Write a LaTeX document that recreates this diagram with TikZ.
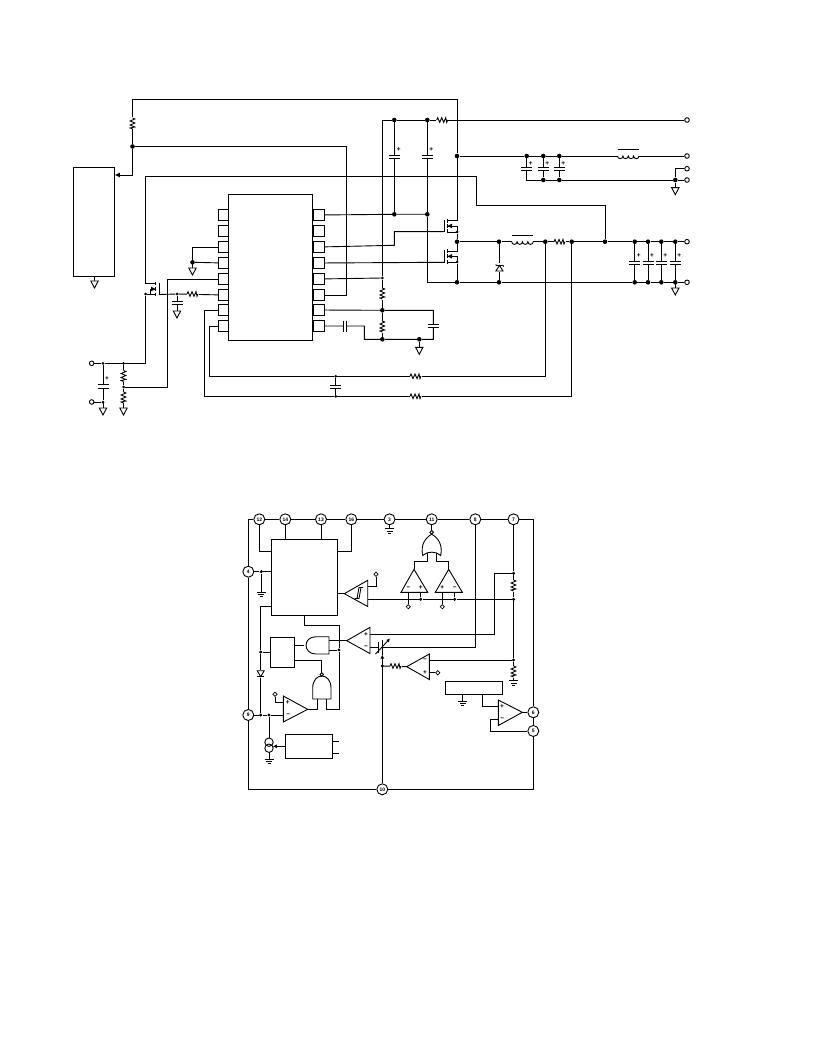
\documentclass[tikz,border=0pt]{standalone}
\usepackage{fontspec}
\setmainfont{Liberation Sans}
\usetikzlibrary{arrows.meta,shapes.geometric}
\tikzset{
 w/.style={line width=0.9pt,line join=miter},
 jdot/.style={circle,fill=black,inner sep=0pt,minimum size=4.6pt},
 sdot/.style={circle,fill=black,inner sep=0pt,minimum size=3pt},
 term/.style={circle,draw,line width=0.9pt,fill=white,inner sep=0pt,minimum size=4.6pt},
 pinc/.style={circle,draw,line width=0.9pt,fill=white,inner sep=0pt,minimum size=11pt,font=\fontsize{5}{5}\selectfont\bfseries},
 pinb/.style={draw,line width=0.9pt,fill=white,inner sep=0pt,minimum width=11pt,minimum height=11pt},
 blockb/.style={draw,line width=0.9pt,fill=white,inner sep=0pt},
 diam/.style={diamond,draw,line width=0.7pt,fill=white,inner sep=0pt,minimum size=4.5pt},
 sgn/.style={inner sep=0pt,font=\fontsize{6.5}{6.5}\selectfont\bfseries},
 resh/.pic={\fill[white](-0.5,-3) rectangle (11.5,3);\draw[w](0,0)--(1,-2.3)--(3,2.3)--(5,-2.3)--(7,2.3)--(9,-2.3)--(10,2.3)--(11,0);},
 resv/.pic={\fill[white](-3,-0.5) rectangle (3,11.5);\draw[w](0,0)--(2.3,1)--(-2.3,3)--(2.3,5)--(-2.3,7)--(2.3,9)--(-2.3,10)--(0,11);},
 capv/.pic={\fill[white](-6,-1.65) rectangle (6,1.65);\draw[w](-5.5,-1.65)--(5.5,-1.65) (-5.5,1.65)--(5.5,1.65);},
 caph/.pic={\fill[white](-1.65,-6) rectangle (1.65,6);\draw[w](-1.65,-5.5)--(-1.65,5.5) (1.65,-5.5)--(1.65,5.5);},
 indc/.pic={\fill[white](0,-6) rectangle (21.5,1);\draw[w](0,0) arc[start angle=180,end angle=0,radius=2.69] arc[start angle=180,end angle=0,radius=2.69] arc[start angle=180,end angle=0,radius=2.69] arc[start angle=180,end angle=0,radius=2.69];\draw[w](0,-6.3)--(21.5,-6.3);},
 gtri/.pic={\draw[w](0,-5)--(0,0);\draw[w,fill=white](-3.7,0)--(3.7,0)--(0,7)--cycle;},
 gbars/.pic={\draw[w](-4.5,0)--(4.5,0) (-3,2.3)--(3,2.3) (-1.5,4.6)--(1.5,4.6);},
 nfet/.pic={\draw[w](0,0)--(0,12.3);\draw[w](3.3,-1)--(3.3,3) (3.3,4.2)--(3.3,8) (3.3,9.5)--(3.3,13.3);\draw[w](3.3,0.7)--(13,0.7);\draw[w](3.3,6)--(13,6)--(13,12)--(3.3,12);\fill(3.5,6)--(8,3.7)--(8,8.3)--cycle;},
}
\begin{document}
\begin{tikzpicture}[x=1pt,y=-1pt]
\useasboundingbox (0,0) rectangle (816,1056);
% ---------- upper schematic: blocks ----------
\node[blockb,minimum width=41pt,minimum height=109pt] (blk) at (93.8,221.8) {};
\node[blockb,minimum width=84pt,minimum height=146pt] (chip) at (270.3,267.3) {};
\foreach \i/\y in {1/215,2/231,3/247,4/263,5/279,6/295,7/310,8/326}{
 \node[pinb,minimum width=10pt] (lp\i) at (223.3,\y) {};
 \node[pinb] (rp\i) at (319,\y) {};
}
% junctions
\foreach \n/\x/\y in {a1/132.5/146.5,b1/394.3/120,b2/427.3/120,b3/394.3/214.3,b4/427.3/214.3,c0/457/156,c1/526.7/156,c2/543.3/156,c3/559.3/156,d2/543.3/180,d3/559.3/180,d4/675.3/180,e0/457/241.7,e1/499/241.7,e2/545.3/241.7,e3/571.7/241.7,e4/605/241.7,e5/634.7/241.7,e6/648/241.7,e7/661.3/241.7,e8/675.3/241.7,f0/457/282.3,f1/499/282.3,f5/634.7/282.3,f6/648/282.3,f7/661.3/282.3,f8/675.3/282.3,g1/192.5/262.3,h1/382.3/310.3,h2/382.3/339.3,h3/419.3/339.3}
 {\node[jdot] (\n) at (\x,\y) {};}
\foreach \n/\x/\y in {s1/382.3/278,s2/457/232,s3/457/262,s4/145.7/294,s5/177/294,s6/103/363.3,s7/123.5/363.3,s8/123.5/387,s9/103/402,s10/335.7/376.3,s11/335.7/396.3}
 {\node[sdot] (\n) at (\x,\y) {};}
\foreach \n/\x/\y in {t1/687/120,t2/687/156,t3/687/168.7,t4/687/180,t5/687/241.7,t6/687/282.3,t7/91.7/363.3,t8/91.7/402}
 {\node[term] (\n) at (\x,\y) {};}
% upper wires
\draw[w] (c0) -- (457,99) -- (132.5,99) -- (a1);
\draw[w] (a1) -- (346.5,146.5) -- (346.5,295) -- (rp6);
\draw[w,-{Latex[length=5pt,width=5pt]}] (a1) -- (132.5,175) -- (blk.east|-132.5,175);
\draw[w] (rp1) -- (b3) -- (b4);
\draw[w] (e4) -- (605,205.3) -- (476.3,205.3) -- (476.3,176.5) -- (145.7,176.5) -- (145.7,283.3) -- (155.7,283.3);
\draw[w] (s4) -- (145.7,363.3) -- (s7) -- (s6) -- (t7);
\draw[w] (s6) -- (s9) -- (t8);
\draw[w] (s7) -- (s8) -- (123.5,408);
\draw[w] (s8) -- (167.3,387) -- (167.3,279) -- (lp5);
% left fet
\draw[w] (159,282.7) -- (159,295);
\draw[w] (155.7,282) -- (155.7,285.5) (155.7,287) -- (155.7,291) (155.7,292.5) -- (155.7,296);
\draw[w] (155.7,289) -- (150.5,289) -- (150.5,294);
\draw[w] (s4) -- (155.7,294);
\fill (155.7,289) -- (151,286.7) -- (151,291.3) -- cycle;
\draw[w] (159,294.5) -- (s5) -- (lp6);
\draw[w] (s5) -- (177,310);
\draw[w] (lp3) -| (g1);
\draw[w] (lp4) -- (g1);
\draw[w] (lp7.west) -- (204.3,310) -- (204.3,396.3) -- (s11) -- (571.7,396.3) -- (e3);
\draw[w] (lp8.west) -- (209,326) -- (209,376.3) -- (s10) -- (545.3,376.3) -- (e2);
\draw[w] (s10) -- (s11);
% right side wires
\draw[w] (382.3,120) -- (b1) -- (b2) -- (t1);
\draw[w] (382.3,120) -- (s1) -- (h1) -- (h2);
\draw[w] (b1) -- (b3);
\draw[w] (b2) -- (b4) -- (427.3,282.3) -- (f0) -- (f1) -- (f5) -- (f6) -- (f7) -- (f8) -- (t6);
\draw[w] (c0) -- (c1) -- (c2) -- (c3) -- (t2);
\draw[w] (c0) -- (457,220.7);
\draw[w] (c1) -- (526.7,180) -- (d2) -- (d3) -- (d4) -- (t4);
\draw[w] (c2) -- (d2) (c3) -- (d3);
\draw[w] (d4) -- (675.3,168.7) -- (t3);
\draw[w] (s2) -- (e0) -- (e1) -- (e2) -- (e3) -- (e4) -- (e5) -- (e6) -- (e7) -- (e8) -- (t5);
\draw[w] (s3) -- (f0);
\draw[w] (e0) -- (457,251.7);
\draw[w] (e1) -- (f1) (e5) -- (f5) (e6) -- (f6) (e7) -- (f7) (e8) -- (f8);
\draw[w] (rp3) -- (394.3,245.3) -- (394.3,231.7) -- (444,231.7);
\draw[w] (rp4) -- (444,262.3);
\draw[w] (rp5) -- (s1);
\draw[w] (rp7) -- (h1) -- (433.3,310.3) -- (433.3,339.3) -- (h3) -- (h2) -- (364.3,339.3) -- (364.3,326) -- (rp8);
% FETs
\path (444,220) pic {nfet} (444,250.3) pic {nfet};
% passives
\path (132.5,118) pic {resv} (436.7,120) pic {resh};
\path (394.3,157.3) pic {capv} (427.3,157.3) pic {capv};
\path (526.7,169.3) pic {capv} (543.3,169.3) pic {capv} (559.3,169.3) pic {capv};
\path (617.5,156) pic {indc} (511.7,241.7) pic {indc};
\path (554,241.7) pic {resh};
\path (634.7,262.7) pic {capv} (648,262.7) pic {capv} (661.3,262.7) pic {capv} (675.3,262.7) pic {capv};
\path (382.3,288) pic {resv} (382.3,321) pic {resv};
\path (433.3,326) pic {capv} (345,326) pic {caph};
\path (187,294) pic {resh} (177,302.8) pic {capv};
\path (123.5,370.5) pic {resv} (123.5,392) pic {resv} (103,386.3) pic {capv};
\path (335.7,386.8) pic {capv} (410,376.3) pic {resh} (410,396.3) pic {resh};
% zener
\fill[white] (494,263) rectangle (504,272);
\draw[w] (495.7,264.5) -- (496.5,265.5) -- (503,265.5) -- (503.8,266.5);
\draw[w] (499.5,265.5) -- (495.8,271) -- (503,271) -- cycle;
% grounds
\path (94.5,281) pic {gtri} (192.5,268) pic {gtri} (177,311) pic {gtri} (103,408) pic {gtri} (123.5,408) pic {gtri} (419.3,347.3) pic {gtri} (675.3,187.7) pic {gtri} (675.3,288) pic {gtri};
% plus signs upper
\foreach \x/\y [count=\i] in {398.7/150,431.3/150,530.7/163.3,547.3/163.3,563.3/163.3,638.7/256,652/256,665.3/256,679.3/256,107/379}
 {\node[sgn] (up\i) at (\x,\y) {+};}
% ---------- lower block diagram ----------
\foreach \n/\t/\x/\y in {p12/12/259.3/519.3,p14/14/285.3/519.3,p13/13/321/519.3,p16/16/351.3/519.3,p3/3/389.5/519.3,p11/11/431.7/519.3,p8/8/475.3/519.3,p7/7/513.5/519.3,p4/4/248.3/571.7,p9/9/248.3/715,p6/6/533.3/712.3,p5/5/533.3/731,p10/10/382.3/789.3}
 {\node[pinc] (\n) at (\x,\y) {\t};}
\node[blockb,minimum width=66.4pt,minimum height=76pt] (ctl) at (304.5,577.3) {};
\node[blockb,minimum width=24pt,minimum height=30pt] (lat) at (282.3,652.3) {};
\node[blockb,minimum width=47.4pt,minimum height=24pt] (osc) at (309,746.3) {};
\node[blockb,minimum width=56.6pt,minimum height=13pt] (ref) at (474,687.8) {};
\foreach \n/\x/\y in {l1/261.3/571.7,l2/339/650,l3/260.7/652,l4/260.7/715,l5/269/715,l6/382.3/666,l7/513.5/573.3,l8/513.5/599.3,l9/513.5/660,l10/420.7/599.3,l11/454.7/599.3}
 {\node[sdot,minimum size=3.4pt] (\n) at (\x,\y) {};}
\foreach \n/\x/\y in {q1/376/574.3,q2/408.3/606.7,q3/442.3/606.7,q4/275/694.3,q5/437.7/672.7}
 {\node[diam] (\n) at (\x,\y) {};}
% frame
\draw[w] (p4) -- (248.3,519.3) -- (p12) -- (p14) -- (p13) -- (p16) -- (p3) -- (p11) -- (p8) -- (p7) -- (533.3,519.3) -- (p6) -- (p5) -- (533.3,789.3) -- (p10) -- (248.3,789.3) -- (p9) -- (p4);
% control box connections
\draw[w] (p12) -- (259.3,551.3) -- (271.3,551.3);
\draw[w] (p14) -- (285.3,539.3);
\draw[w] (p13) -- (321,539.3);
\draw[w] (p16) -- (351.3,551.3) -- (337.7,551.3);
\draw[w] (p4) -- (l1) -- (271.3,571.7);
\draw[w] (l1) -- (261.3,592);
\draw[w] (p3) -- (389.5,528.7);
\path (389.5,528.7) pic {gbars} (261.3,592) pic {gbars};
% Schmitt
\draw[w] (344.3,593.7) -- (367.7,580.3) -- (367.7,606.5) -- cycle;
\draw[w] (337.7,593.7) -- (344.3,593.7);
\draw[w] (354.5,598.5) -- (359,598.5) -- (361,587.5) -- (363,587.5);
\draw[w] (357,598.5) -- (359,587.5) -- (361,587.5);
\draw[w] (367.7,586) -- (376,586) -- (q1);
\draw[w] (367.7,599.3) -- (l10) -- (l11) -- (l8);
% OR gate + comparators
\draw[w] (p11) -- (431.7,530);
\draw[w,fill=white] (431.7,532.3) circle (1.8);
\draw[w] (422.7,555.5) .. controls (420.5,545) and (425,538) .. (431.7,534.2) .. controls (438.4,538) and (442.9,545) .. (440.7,555.5) .. controls (436,551) and (427.4,551) .. (422.7,555.5) -- cycle;
\draw[w] (427.3,553) -- (427.3,561.7) -- (414,561.7) -- (414,569.3);
\draw[w] (436,553) -- (436,561.7) -- (448.7,561.7) -- (448.7,569.3);
\draw[w] (414,569.3) -- (427.7,592.3) -- (401,592.3) -- cycle;
\draw[w] (448.7,569.3) -- (462.3,592.3) -- (435.3,592.3) -- cycle;
\draw[w] (408.3,592.3) -- (q2) (420.7,592.3) -- (l10) (442.3,592.3) -- (q3) (454.7,592.3) -- (l11);
% pin 8 and 7 lines
\draw[w] (p8) -- (475.3,647.3) -- (383,647.3);
\draw[w] (p7) -- (l7) -- (l8) -- (l9) -- (513.5,680.7);
\draw[w] (l7) -- (494.7,573.3) -- (494.7,634.3) -- (370,634.3);
\path (513.5,666) pic {resv} (513.5,580) pic {resv} (513.5,680.7) pic {gbars};
% comparator
\draw[w] (346.7,640.7) -- (370,627.3) -- (370,653.5) -- cycle;
\draw[w] (370,647.3) -- (378,647.3);
\draw[w] (378.3,642) -- (378.3,653) (382.3,640) -- (382.3,655);
\draw[w,-{Latex[length=3.5pt,width=3.5pt]}] (375.5,654) -- (390,638.5);
% AND + latch
\draw[w] (329,636.7) -- (316,636.7) .. controls (302.7,636.7) and (302.7,654) .. (316,654) -- (329,654) -- cycle;
\draw[w] (329,640.7) -- (346.7,640.7);
\draw[w] (329,650) -- (l2);
\draw[w] (lat.east|-306,645) -- (304,645);
\draw[w] (ctl.south-|304.3,600) -- (304.3,625.3) -- (339,625.3) -- (l2) -- (339,709.3) -- (326.7,709.3) -- (326.7,699);
\draw[w] (271.3,606.7) -- (260.7,606.7) -- (l3) -- (l4);
\draw[w] (l3) -- (270.3,652);
\draw[w] (294.3,660.7) -- (321.7,660.7) -- (321.7,672.8);
\draw[w,fill=white] (321.7,674.5) circle (1.8);
\draw[w] (312.7,699) -- (312.7,688) .. controls (312.7,672) and (331,672) .. (331,688) -- (331,699) -- cycle;
\draw[w] (317.3,699) -- (317.3,709.3) -- (307.7,709.3);
% diode
\fill[white] (256,670) rectangle (265,678);
\draw[w] (257.2,670.7) -- (264.2,670.7) -- (260.7,676.7) -- cycle;
\draw[w] (257.2,676.7) -- (264.2,676.7);
% opamp pin 9
\draw[w] (307.7,709.3) -- (283.3,696) -- (283.3,722) -- cycle;
\draw[w] (p9) -- (l4) -- (l5) -- (283.3,715);
\draw[w] (283.3,702.7) -- (275,702.7) -- (q4);
% current source
\draw[w] (l5) -- (269,738);
\draw[w,fill=white] (269,742.2) circle (4.2);
\draw[w] (269,748.2) circle (4.2);
\draw[w] (269,752.4) -- (269,759);
\path (269,759) pic {gbars};
\draw[w,-{Latex[length=4pt,width=4pt]}] (osc.west) -- (272.8,746.3);
\draw[w] (332.7,741) -- (339.3,741) (332.7,753.3) -- (339.3,753.3);
% error amp
\draw[w,-{Latex[length=4pt,width=4pt]}] (p10) -- (382.3,654.5);
\draw[w] (l6) -- (406.7,666.7);
\path (390,666) pic {resh};
\draw[w] (406.7,666.7) -- (429.3,654) -- (429.3,679.5) -- cycle;
\draw[w] (429.3,660) -- (l9);
\draw[w] (429.3,672.7) -- (q5);
% reference and output amp
\draw[w] (462.7,694.3) -- (462.7,701.3);
\path (462.7,701.3) pic {gbars};
\draw[w] (482.3,694.3) -- (482.3,706.3) -- (498.3,706.3);
\draw[w] (522.3,712.3) -- (498.3,700) -- (498.3,725.5) -- cycle;
\draw[w] (522.3,712.3) -- (p6);
\draw[w] (498.3,719) -- (490.3,719) -- (490.3,731) -- (p5);
% signs lower
\foreach \x/\y/\s [count=\i] in {287.7/702.7/+,288.3/715.3/−,366/634.3/+,366/647.3/−,425/660/−,425/672.7/+,502/706.7/+,502.3/719/−,408.3/588/−,420.7/588/+,442.3/588/+,454.7/588/−}
 {\node[sgn] (lo\i) at (\x,\y) {\s};}
\end{tikzpicture}
\end{document}
